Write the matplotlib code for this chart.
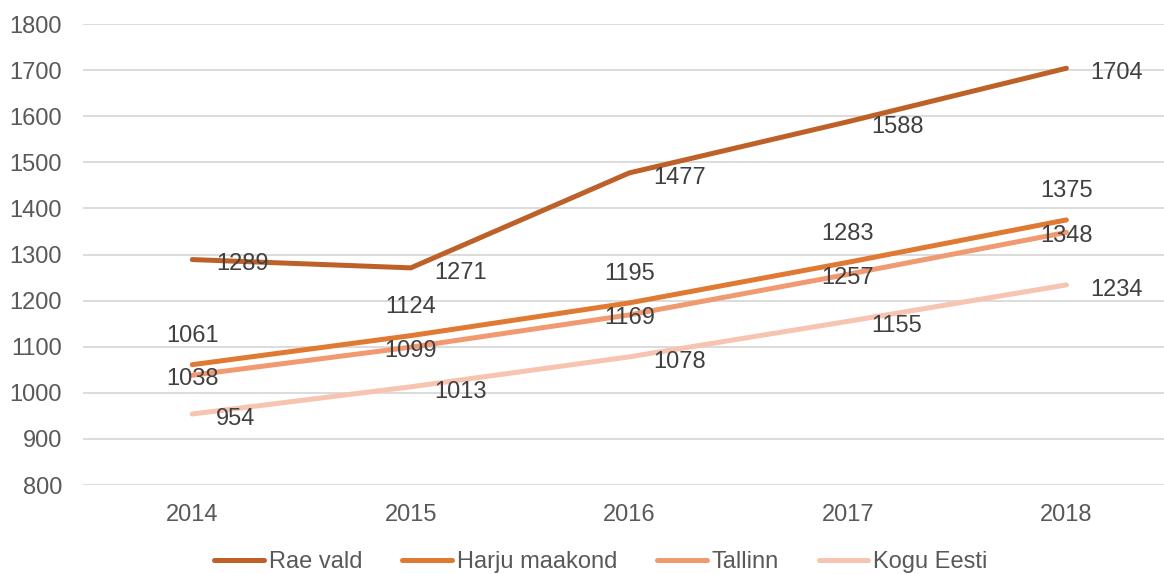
import matplotlib
matplotlib.use("Agg")
import matplotlib.pyplot as plt

years = ["2014", "2015", "2016", "2017", "2018"]
rae = [1289, 1271, 1477, 1588, 1704]
harju = [1061, 1124, 1195, 1283, 1375]
tallinn = [1038, 1099, 1169, 1257, 1348]
eesti = [954, 1013, 1078, 1155, 1234]

names = ["Rae vald", "Harju maakond", "Tallinn", "Kogu Eesti"]
series = [rae, harju, tallinn, eesti]
colors = ["#BD6128", "#E07A33", "#F19A72", "#F6C4B1"]
# where the data labels sit: (dx, dy in points, ha, va)
lab_pos = [(17, -3.5, "left", "center"), (0, 20.5, "center", "center"),
           (0, -2.5, "center", "center"), (17, -3.5, "left", "center")]

plt.rcParams['font.family'] = ['Liberation Sans', 'DejaVu Sans']

fig = plt.figure(figsize=(11.64, 5.74), dpi=100)
ax = fig.add_axes([83/1164, 1-485/574, 1-83/1164 + 0.01, 461/574])

x = list(range(len(years)))
for name, vals, c, (dx, dy, ha, va) in zip(names, series, colors, lab_pos):
    ax.plot(x, vals, color=c, lw=3.6, solid_capstyle="round", solid_joinstyle="round", label=name)
    for xi, v in zip(x, vals):
        ax.annotate(str(v), (xi, v), xytext=(dx, dy), textcoords="offset points",
                    ha=ha, va=va, fontsize=17, color="#404040")

ax.set_xlim(-0.5, 4.5)
ax.set_ylim(800, 1800)
ax.set_yticks(range(800, 1801, 100))
ax.set_xticks(x)
ax.set_xticklabels(years)
ax.grid(axis="y", color="#D9D9D9", lw=1.3)
ax.set_axisbelow(True)
for s in ax.spines.values():
    s.set_visible(False)
ax.tick_params(length=0, labelsize=17, labelcolor="#595959")
ax.tick_params(axis="y", pad=15)
ax.tick_params(axis="x", pad=14)

fig.legend(loc="center", bbox_to_anchor=(601/1164, 1-562/574), ncol=4, frameon=False,
           fontsize=17, handlelength=2.1, handletextpad=0.2, columnspacing=1.7,
           labelcolor="#595959")

fig.savefig("out.png", dpi=100)
